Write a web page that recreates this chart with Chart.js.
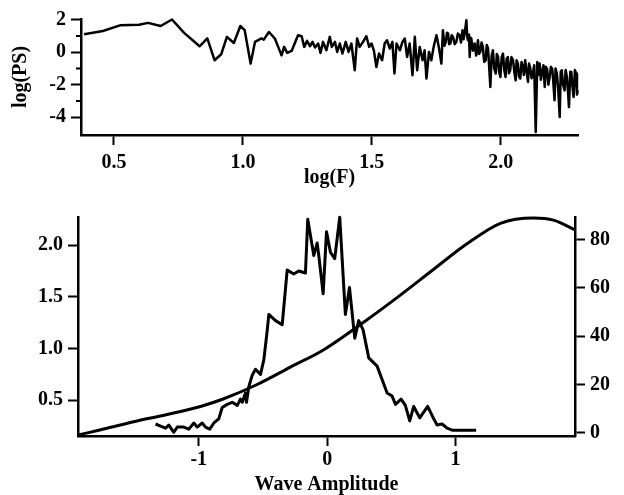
<!DOCTYPE html>
<html>
<head>
<meta charset="utf-8">
<script src="https://cdn.jsdelivr.net/npm/chart.js@4/dist/chart.umd.min.js"></script>
<style>
  html, body { margin:0; padding:0; background:#fff; }
  #wrap { position:relative; width:624px; height:495px; overflow:hidden; background:#fff; }
  #c1 { position:absolute; left:0; top:0; }
  #c2 { position:absolute; left:0; top:200px; }
</style>
</head>
<body>
<div id="wrap">
  <canvas id="c1" width="624" height="200"></canvas>
  <canvas id="c2" width="624" height="295"></canvas>
</div>
<script>
// ---------- Top panel: power spectrum ----------
const logF = [0.384,0.457,0.526,0.597,0.632,0.681,0.725,0.771,0.832,0.862,0.890,0.916,0.938,0.965,0.990,1.007,1.030,1.047,1.072,1.081,1.101,1.124,1.137,1.150,1.160,1.172,1.189,1.214,1.228,1.238,1.249,1.260,1.270,1.280,1.292,1.301,1.311,1.324,1.337,1.345,1.357,1.366,1.376,1.386,1.399,1.410,1.421,1.434,1.443,1.453,1.466,1.479,1.490,1.499,1.508,1.518,1.528,1.540,1.550,1.559,1.570,1.580,1.588,1.596,1.609,1.619,1.628,1.637,1.647,1.658,1.667,1.676,1.686,1.697,1.705,1.712,1.722,1.731,1.740,1.751,1.761,1.770,
  1.776,1.782,1.787,1.792,1.796,1.800,1.805,1.810,1.815,1.822,1.828,1.834,1.841,1.846,1.852,1.856,1.860,1.864,1.867,1.870,1.873,1.877,1.880,1.883,1.886,1.892,1.899,1.905,1.912,1.916,1.921,1.926,1.931,1.936,1.942,1.946,1.951,1.955,1.960,1.965,1.970,1.975,1.981,1.985,1.990,1.994,1.999,2.004,2.009,2.014,2.019,2.023,2.028,2.032,2.037,2.042,2.048,2.053,2.058,2.062,2.067,2.071,2.076,2.081,2.086,2.090,2.095,2.100,2.106,2.110,2.115,2.120,2.125,2.130,2.136,2.142,2.146,2.151,2.156,2.162,2.166,2.171,2.175,2.180,2.185,2.190,2.195,2.200,2.204,2.209,2.213,2.218,2.223,2.229,2.233,2.237,2.242,2.248,2.252,2.257,2.261,2.265,2.270,2.274,2.279,2.283,2.288,2.293,2.296,2.299];
const logPS = [1.11,1.31,1.67,1.69,1.81,1.62,2.02,1.21,0.37,0.86,-0.49,-0.12,0.95,0.57,1.62,1.36,-0.70,0.64,0.85,0.78,1.25,0.85,0.33,-0.19,0.33,-0.04,0.08,1.05,0.99,0.33,0.70,0.37,0.64,0.29,0.54,-0.04,0.64,0.12,0.95,0.33,0.64,0.02,0.54,-0.08,0.64,0.02,0.54,-1.11,0.85,0.33,0.64,0.99,0.33,0.54,0.12,-0.91,-0.08,-0.49,0.54,0.74,0.23,0.64,-1.31,0.54,0.12,0.64,0.85,-0.29,0.54,-1.42,0.95,-1.11,0.33,-0.49,0.12,-1.62,0.02,-0.49,0.33,1.05,0.23,-0.70,
  1.36,0.40,0.64,1.20,1.15,0.50,0.54,1.05,0.95,0.50,0.64,1.15,1.05,0.60,1.36,0.80,1.15,1.60,1.98,1.00,0.74,1.10,-0.29,0.90,0.85,0.10,0.54,-0.20,0.74,-0.10,0.02,0.60,0.33,-0.60,-0.49,0.45,0.23,-0.80,-2.14,-0.20,0.12,-1.00,-1.31,-0.10,-0.29,-1.20,-1.52,-0.30,-0.08,-1.10,-1.52,-0.40,-0.29,-1.30,-1.11,-0.30,-0.49,-1.20,-1.73,-0.50,-0.70,-1.50,-1.62,-0.60,-0.91,-1.40,-0.49,-1.10,-1.83,-0.70,-1.01,-1.60,-1.31,-0.80,-4.92,-0.60,-1.40,-0.70,-1.70,-1.11,-0.80,-2.14,-0.90,-1.01,-2.00,-1.52,-0.90,-1.01,-1.80,-2.96,-1.00,-1.31,-2.20,-3.99,-1.20,-1.11,-2.00,-2.35,-1.10,-1.52,-2.40,-3.38,-1.20,-1.21,-2.20,-2.76,-1.10,-1.31,-2.60,-2.35];
const topXTicks = [0.5, 1.0, 1.5, 2.0];
const topYTicks = [2, 0, -2, -4];
const topYMinorTicks = [1, -1, -3];

// ---------- Bottom panel: amplitude histogram + curve ----------
const histAmp = [-1.336,-1.297,-1.258,-1.233,-1.194,-1.167,-1.116,-1.077,-1.038,-1.012,-0.973,-0.947,-0.914,-0.882,-0.844,-0.817,-0.778,-0.739,-0.700,-0.675,-0.661,-0.636,-0.628,-0.610,-0.584,-0.558,-0.519,-0.493,-0.467,-0.454,-0.402,-0.350,-0.311,-0.260,-0.221,-0.169,-0.151,-0.104,-0.078,-0.065,-0.031,-0.005,0.026,0.059,0.098,0.142,0.174,0.189,0.215,0.246,0.280,0.324,0.389,0.467,0.506,0.532,0.576,0.609,0.643,0.674,0.721,0.783,0.830,0.856,0.895,0.934,0.973,1.160];
const histVal = [0.27,0.25,0.23,0.26,0.19,0.24,0.24,0.22,0.28,0.24,0.28,0.24,0.22,0.28,0.32,0.43,0.46,0.48,0.45,0.51,0.48,0.57,0.48,0.63,0.74,0.80,0.75,0.89,1.17,1.33,1.27,1.23,1.76,1.72,1.75,1.73,2.25,1.90,2.02,1.90,1.53,2.13,1.93,1.87,2.27,1.33,1.59,1.41,1.10,1.27,1.18,0.91,0.83,0.57,0.54,0.46,0.51,0.45,0.30,0.44,0.33,0.44,0.32,0.26,0.27,0.23,0.21,0.21];
const curveAmp = [-1.94,-1.77,-1.505,-1.245,-0.986,-0.805,-0.545,-0.286,-0.026,0.311,0.570,0.830,1.089,1.349,1.608,1.763,1.93];
const curveVal = [-0.9,1.2,4.6,7.6,10.9,14.1,20.0,27.2,34.4,46.8,57.0,67.7,78.2,86.7,88.9,88.0,84.0];
const botXTicks = [-1, 0, 1];
const botYLeftTicks = [0.5, 1.0, 1.5, 2.0];
const botYRightTicks = [0, 20, 40, 60, 80];

const FONT = 'Liberation Serif, Times New Roman, serif';
Chart.defaults.font.family = FONT;
Chart.defaults.color = '#000';

const toXY = (xs, ys) => xs.map((x, i) => ({x, y: ys[i]}));
const fixedTicks = arr => (scale) => { scale.ticks = arr.map(v => ({value: v})); };

const minorTicksPlugin = {
  id: 'minorTicks',
  afterDraw(chart, args, opts) {
    if (!opts || !opts.axis) return;
    const s = chart.scales[opts.axis];
    const ctx = chart.ctx;
    ctx.save();
    ctx.strokeStyle = '#000';
    ctx.lineWidth = 2;
    ctx.beginPath();
    opts.values.forEach(v => {
      const y = s.getPixelForValue(v);
      ctx.moveTo(s.right, y);
      ctx.lineTo(s.right - opts.len, y);
    });
    ctx.stroke();
    ctx.restore();
  }
};

function axisCommon(extra) {
  return Object.assign({
    type: 'linear',
    grid: { drawOnChartArea: false, drawTicks: true, tickLength: 10, tickWidth: 2, tickColor: '#000' },
    border: { display: true, width: 2.5, color: '#000' },
  }, extra);
}

const tickFont = { family: FONT, size: 20, weight: 'bold', lineHeight: 1.2 };
const titleFont = { family: FONT, size: 20, weight: 'bold', lineHeight: 1 };

new Chart(document.getElementById('c1'), {
  type: 'scatter',
  data: { datasets: [{
    data: toXY(logF, logPS),
    showLine: true, borderColor: '#000', borderWidth: 2.5, pointRadius: 0,
    borderJoinStyle: 'round', tension: 0, clip: false
  }]},
  options: {
    responsive: false, animation: false, devicePixelRatio: 1,
    layout: { padding: { top: 19, right: 46, left: 0, bottom: 0 } },
    plugins: { legend: { display: false }, tooltip: { enabled: false },
      minorTicks: { axis: 'y', values: topYMinorTicks, len: 5 } },
    scales: {
      x: axisCommon({
        position: 'bottom', min: 0.372, max: 2.30,
        afterBuildTicks: fixedTicks(topXTicks),
        afterFit: s => { s.height = 65; },
        ticks: { font: tickFont, padding: 6, maxRotation: 0, autoSkip: false, callback: v => Number(v).toFixed(1) },
        title: { display: true, text: 'log(F)', font: titleFont, padding: { top: 0, bottom: 12 } }
      }),
      y: axisCommon({
        position: 'left', min: -5.1, max: 2.05,
        afterBuildTicks: fixedTicks(topYTicks),
        afterFit: s => { s.width = 81; },
        ticks: { font: tickFont, padding: 5, callback: v => String(v) },
        title: { display: true, text: 'log(PS)', font: { family: FONT, size: 20, weight: 'bold', lineHeight: 1.2 }, padding: { top: 9, bottom: 0 } }
      })
    }
  },
  plugins: [minorTicksPlugin]
});

new Chart(document.getElementById('c2'), {
  type: 'scatter',
  data: { datasets: [
    { data: toXY(histAmp, histVal), yAxisID: 'y',
      showLine: true, borderColor: '#000', borderWidth: 3, pointRadius: 0,
      borderJoinStyle: 'round', tension: 0, clip: false },
    { data: toXY(curveAmp, curveVal), yAxisID: 'y2',
      showLine: true, borderColor: '#000', borderWidth: 3, pointRadius: 0,
      cubicInterpolationMode: 'monotone', tension: 0.4, clip: false }
  ]},
  options: {
    responsive: false, animation: false, devicePixelRatio: 1,
    layout: { padding: { top: 6, right: 0, left: 0, bottom: 0 } },
    plugins: { legend: { display: false }, tooltip: { enabled: false } },
    scales: {
      x: axisCommon({
        position: 'bottom', min: -1.94, max: 1.93,
        afterBuildTicks: fixedTicks(botXTicks),
        afterFit: s => { s.height = 59; },
        ticks: { font: tickFont, padding: 2, maxRotation: 0, autoSkip: false, callback: v => String(v) },
        title: { display: true, text: 'Wave Amplitude', font: titleFont, padding: { top: 0, bottom: 0 } }
      }),
      y: axisCommon({
        position: 'left', min: 0.154, max: 2.272,
        afterBuildTicks: fixedTicks(botYLeftTicks),
        afterFit: s => { s.width = 78; },
        ticks: { font: tickFont, padding: 5, callback: v => Number(v).toFixed(1) }
      }),
      y2: axisCommon({
        position: 'right', min: -1.3, max: 89.3,
        afterBuildTicks: fixedTicks(botYRightTicks),
        afterFit: s => { s.width = 49; },
        ticks: { font: tickFont, padding: 5, callback: v => String(v) }
      })
    }
  }
});
</script>
</body>
</html>
